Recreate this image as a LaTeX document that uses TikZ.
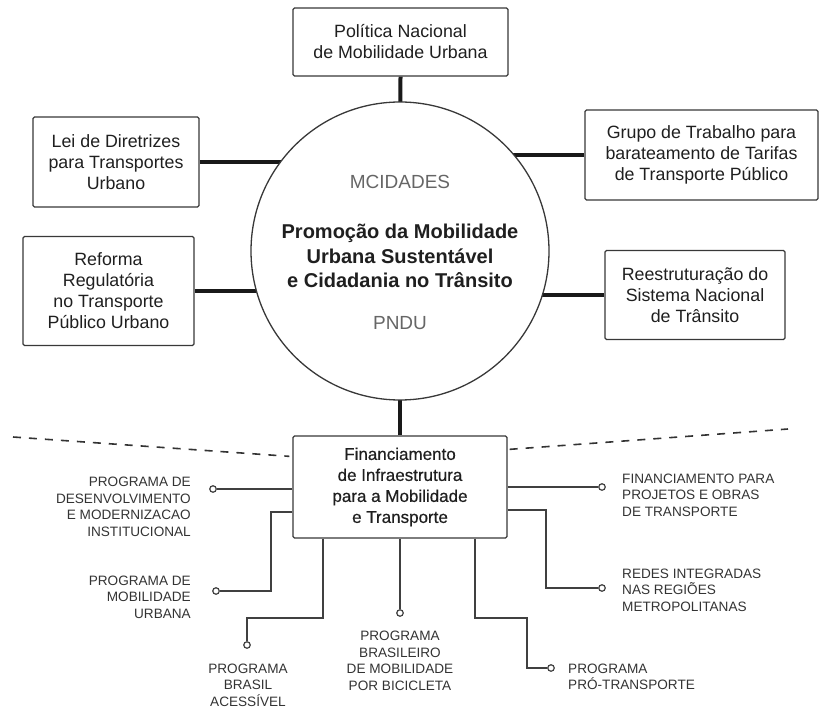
\documentclass[tikz,border=0pt]{standalone}
\usepackage{fontspec}
\setmainfont{Liberation Sans}
\newfontfamily\medfont[FakeBold=0.5]{Liberation Sans}
\usepackage{tikz}
\usetikzlibrary{backgrounds}

\begin{document}
\begin{tikzpicture}[x=1pt,y=-1pt,
    box/.style={draw=black!78,line width=1.3pt,rounded corners=1.5pt,align=center,
      text=black!88,font=\fontsize{17.8}{21}\selectfont,inner sep=0pt},
    link/.style={line width=4pt,draw=black!90},
    branch/.style={line width=1.4pt,draw=black!75},
    tip/.style={circle,draw=black!75,line width=1.2pt,fill=white,minimum size=6.5pt,inner sep=0pt},
    lbl/.style={font=\fontsize{13.6}{16.5}\selectfont,text=black!80,inner sep=0pt},
    divider/.style={line width=1.6pt,draw=black!80,dash pattern=on 8pt off 8pt}]
\useasboundingbox (0,0) rectangle (819,708);
      \begin{scope}[shift={(0,0)}]
\node[circle,draw=black!78,line width=1.3pt,fill=white,minimum size=298pt,inner sep=0pt] (mc) at (400,251) {};
\node[text=black!60,font=\fontsize{19}{22}\selectfont] (mci) at (400,182) {MCIDADES};
\node[align=center,text=black!88,font=\bfseries\fontsize{20}{24.5}\selectfont] (pro) at (400,256) {Promoção da Mobilidade\\Urbana Sustentável\\e Cidadania no Trânsito};
\node[text=black!60,font=\fontsize{19}{22}\selectfont] (pndu) at (400,323) {PNDU};
\node[box,minimum width=215pt,minimum height=68pt] (pol) at (400.5,42) {Política Nacional\\de Mobilidade Urbana};
\node[box,minimum width=166pt,minimum height=90pt] (lei) at (116,162) {Lei de Diretrizes\\para Transportes\\Urbano};
\node[box,minimum width=171pt,minimum height=109pt] (ref) at (108.5,291) {Reforma\\Regulatória\\no Transporte\\Público Urbano};
\node[box,minimum width=233pt,minimum height=90pt] (gt) at (701.5,155) {Grupo de Trabalho para\\barateamento de Tarifas\\de Transporte Público};
\node[box,minimum width=180pt,minimum height=89pt] (ree) at (695,295) {Reestruturação do\\Sistema Nacional\\de Trânsito};
\node[box,font=\medfont\fontsize{17}{21}\selectfont,minimum width=214pt,minimum height=102pt] (fin) at (400,487) {Financiamento\\de Infraestrutura\\para a Mobilidade\\e Transporte};
\begin{scope}[on background layer]
\draw[link] (pol.south) -- (mc.center);
\draw[link] (lei.east) -- (lei.east -| mc.center);
\draw[link] (ref.east) -- (ref.east -| mc.center);
\draw[link] (gt.west) -- (gt.west -| mc.center);
\draw[link] (ree.west) -- (ree.west -| mc.center);
\draw[link] (fin.north) -- (mc.center);
\end{scope}
\coordinate (dl) at (13,437);
\coordinate (dr) at (788,429);
\draw[divider] (dl) -- ([xshift=-3pt,yshift=-21pt]fin.north west);
\draw[divider] ([xshift=2pt,yshift=-14pt]fin.north east) -- (dr);
\node[tip] (p1) at (213,489) {};
\node[tip] (p2) at (216,591) {};
\node[tip] (p3) at (247,645) {};
\node[tip] (p4) at (400,613) {};
\node[tip] (p5) at (551,668) {};
\node[tip] (p6) at (602,487) {};
\node[tip] (p7) at (602,588) {};
\draw[branch] (fin.west |- p1) -- (p1);
\draw[branch] ([yshift=-25pt]fin.west) -| (271,591) -- (p2);
\draw[branch] ([xshift=-77pt]fin.south) |- (247,618) -- (p3);
\draw[branch] (fin.south) -- (p4);
\draw[branch] ([xshift=75pt]fin.south) |- (527,618) |- (p5);
\draw[branch] (fin.east |- p6) -- (p6);
\draw[branch] ([yshift=-23pt]fin.east) -| (546,588) -- (p7);
\node[lbl,align=right,anchor=east] (l1) at (191,507) {PROGRAMA DE\\DESENVOLVIMENTO\\E MODERNIZACAO\\INSTITUCIONAL};
\node[lbl,align=right,anchor=east] (l2) at (191,597) {PROGRAMA DE\\MOBILIDADE\\URBANA};
\node[lbl,align=center] (l3) at (248,685) {PROGRAMA\\BRASIL\\ACESSÍVEL};
\node[lbl,align=center] (l4) at (400,661) {PROGRAMA\\BRASILEIRO\\DE MOBILIDADE\\POR BICICLETA};
\node[lbl,align=left,anchor=west] (l5) at (568,677) {PROGRAMA\\PRÓ-TRANSPORTE};
\node[lbl,align=left,anchor=west] (l6) at (622,495) {FINANCIAMENTO PARA\\PROJETOS E OBRAS\\DE TRANSPORTE};
\node[lbl,align=left,anchor=west] (l7) at (622,590) {REDES INTEGRADAS\\NAS REGIÕES\\METROPOLITANAS};
\end{scope}
    \end{tikzpicture}
\end{document}
